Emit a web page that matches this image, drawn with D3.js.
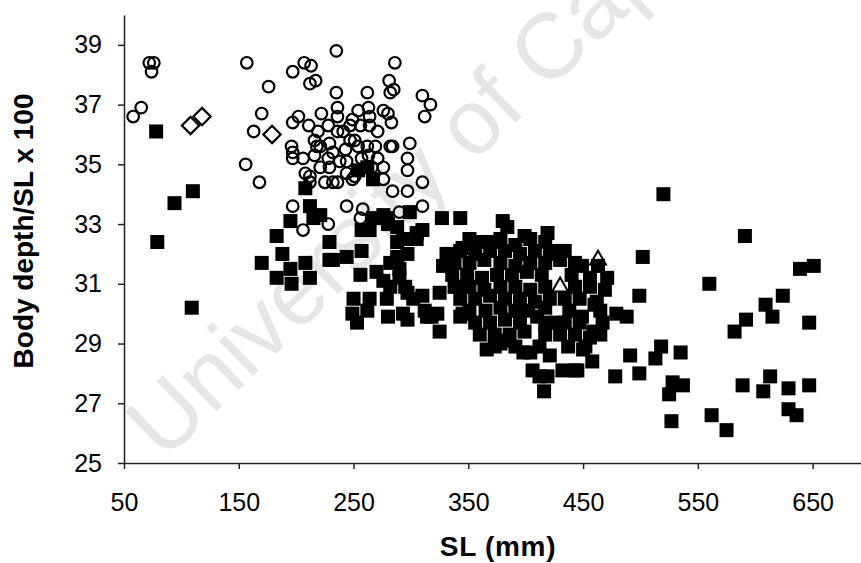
<!DOCTYPE html>
<html>
<head>
<meta charset="utf-8">
<script src="https://cdn.jsdelivr.net/npm/d3@7/dist/d3.min.js"></script>
<style>
body { margin: 0; background: #fff; }
svg { display: block; font-family: "Liberation Sans", Arial, sans-serif; }
</style>
</head>
<body>
<svg width="861" height="563"></svg>
<script>
// values: [SL (mm), body depth/SL x 100]
var squares = [
  [78,36.1],[79,32.4],[94,33.7],[110,34.1],[109,30.2],
  [170,31.7],[183,32.6],[188,32.0],[183,31.2],[196,31.0],[208,31.7],[212,31.2],[208,34.2],[195,33.1],[215,33.2],[212,33.6],[221,33.3],[195,31.5],
  [229,32.4],[244,31.9],[232,31.8],[257,32.1],[257,32.8],[264,32.8],[279,33.2],[288,32.9],[293,32.5],[305,32.7],[299,33.4],[254,34.8],[262,34.9],[267,34.5],[276,33.3],[280,33.0],[327,33.2],[343,33.2],[229,31.8],[256,31.3],[288,32.4],[288,31.9],[276,31.1],[290,31.2],[297,32.0],[331,32.0],[328,31.6],[345,32.2],
  [250,30.5],[249,30.0],[262,30.1],[264,30.5],[279,30.5],[280,29.9],[293,30.0],[297,30.7],[302,30.5],[310,30.6],[312,30.1],[318,29.9],[325,29.4],[325,30.7],[341,30.9],[345,30.0],[270,31.4],[282,30.9],[282,31.7],[290,31.5],[253,29.7],[297,29.8],[314,29.9],[295,30.9],[310,32.8],[305,32.5],[267,33.2],
  [380,33.1],[384,32.9],[399,32.6],[419,32.7],[357,32.4],[370,32.4],[334,32.0],[428,32.1],[449,31.6],[463,31.6],[471,31.2],[502,31.9],[499,30.6],[479,30.0],[488,29.9],[343,29.9],[491,28.6],[499,28.0],[478,27.9],[456,29.2],[458,28.4],[450,28.8],[412,27.9],[406,28.1],[366,28.8],[384,29.1],[398,28.7],[421,28.6],[432,28.1],[443,28.1],[460,30.3],[449,29.9],[410,29.9],[427,29.7],[323,30.0],[404,28.7],[416,27.4],[419,27.9],[378,29.0],[462,30.4],[459,29.4],[445,28.1],
  [351,32.5],[365,32.4],[378,32.5],[391,32.3],[404,32.5],[417,32.4],
  [343,32.1],[356,32.0],[369,32.1],[382,32.1],[395,32.0],[408,32.1],[421,32.0],[434,32.1],
  [338,31.7],[351,31.7],[364,31.8],[378,31.7],[391,31.6],[404,31.7],[417,31.7],[430,31.8],[443,31.7],
  [336,31.3],[349,31.3],[362,31.2],[375,31.3],[388,31.3],[401,31.4],[414,31.3],[440,31.3],[456,31.2],
  [338,30.9],[351,30.9],[364,30.8],[378,30.9],[391,30.9],[404,30.8],[417,30.9],[443,30.9],[456,30.9],[469,30.8],
  [343,30.5],[356,30.5],[369,30.6],[382,30.5],[395,30.5],[408,30.4],[421,30.5],[434,30.5],[447,30.5],
  [351,30.1],[365,30.1],[378,30.2],[391,30.1],[402,30.1],[417,30.2],[438,30.1],[465,30.1],
  [356,29.7],[369,29.7],[382,29.8],[395,29.7],[417,29.7],[434,29.7],[447,29.7],[467,29.7],
  [360,29.3],[373,29.3],[386,29.3],[399,29.4],[417,29.3],[430,29.3],[443,29.3],[465,29.3],
  [373,28.9],[391,28.9],[412,28.9],[437,28.9],[452,28.9],
  [520,34.0],[591,32.6],[560,31.0],[639,31.5],[651,31.6],[624,30.6],[609,30.3],[615,29.9],[647,29.7],[592,29.8],[582,29.4],[518,28.9],[513,28.5],[535,28.7],[528,27.7],[537,27.6],[525,27.3],[589,27.6],[613,27.9],[607,27.4],[629,27.5],[647,27.6],[629,26.8],[636,26.6],[527,26.4],[562,26.6],[575,26.1]
];

var circles = [
  [58,36.6],[65,36.9],[72,38.4],[76,38.4],[74,38.1],[157,38.4],[176,37.6],[170,36.7],[163,36.1],[156,35.0],[168,34.4],
  [197,38.1],[207,38.4],[213,38.3],[212,37.7],[217,37.8],[235,38.8],[286,38.4],[281,37.8],[285,37.5],[282,37.4],[262,37.4],[235,37.4],[310,37.3],[317,37.0],[312,36.6],
  [202,36.6],[197,36.4],[211,36.3],[222,36.7],[228,36.3],[236,36.9],[236,36.6],[247,36.3],[254,36.8],[263,36.9],[264,36.6],[276,36.8],[280,36.7],[283,36.4],
  [197,35.4],[197,35.2],[206,35.2],[208,34.7],[212,34.6],[216,35.8],[221,35.6],[216,35.3],[229,35.7],[232,35.4],[241,36.1],[247,35.8],[256,36.3],[264,36.3],
  [254,35.6],[262,35.6],[269,35.6],[284,35.6],[299,35.7],[297,35.2],[297,34.8],[297,34.1],[310,34.4],[310,33.6],[284,34.1],[276,34.5],[276,34.9],
  [244,35.1],[244,34.7],[251,34.6],[232,34.4],[225,34.4],[221,34.9],[229,34.9],[197,33.6],[206,32.8],[228,33.0],[244,33.6],[256,33.2],[258,33.5],[290,33.4],
  [219,36.1],[236,36.1],[271,35.2],[263,35.3],[282,35.6],[236,34.4],[249,34.5],[212,34.4],[196,35.6],[249,36.5],[218,35.6],[243,35.5],[251,35.8],[257,35.2],[266,34.9],[238,35.1],[271,36.1],[228,35.2]
];

var diamonds = [[108,36.3],[118,36.6],[179,36.0]];

var triangles = [[430,30.9],[463,31.8]];

var xTicks = [50, 150, 250, 350, 450, 550, 650];
var yTicks = [25, 27, 29, 31, 33, 35, 37, 39];

var svg = d3.select("svg");

var x = d3.scaleLinear().domain([50, 700]).range([124, 870]);
var y = d3.scaleLinear().domain([25, 40]).range([463, 15]);

// watermark of the scanned page
svg.append("text")
    .attr("transform", "translate(164,462) rotate(-44)")
    .attr("font-size", 92)
    .attr("fill", "#e6e6e6")
    .text("University of Cape Town");

// filled squares
svg.append("g")
  .selectAll("rect")
  .data(squares)
  .enter().append("rect")
    .attr("x", function(d) { return x(d[0]) - 7; })
    .attr("y", function(d) { return y(d[1]) - 7; })
    .attr("width", 14)
    .attr("height", 14)
    .attr("fill", "#000");

// open circles
svg.append("g")
  .selectAll("circle")
  .data(circles)
  .enter().append("circle")
    .attr("cx", function(d) { return x(d[0]); })
    .attr("cy", function(d) { return y(d[1]); })
    .attr("r", 5.8)
    .attr("fill", "none")
    .attr("stroke", "#000")
    .attr("stroke-width", 2.2);

// open diamonds
svg.append("g")
  .selectAll("path")
  .data(diamonds)
  .enter().append("path")
    .attr("transform", function(d) { return "translate(" + x(d[0]) + "," + y(d[1]) + ") rotate(45)"; })
    .attr("d", d3.symbol().type(d3.symbolSquare).size(150))
    .attr("fill", "none")
    .attr("stroke", "#000")
    .attr("stroke-width", 2.2);

// open triangles
svg.append("g")
  .selectAll("path")
  .data(triangles)
  .enter().append("path")
    .attr("transform", function(d) { return "translate(" + x(d[0]) + "," + y(d[1]) + ")"; })
    .attr("d", d3.symbol().type(d3.symbolTriangle).size(110))
    .attr("fill", "none")
    .attr("stroke", "#000")
    .attr("stroke-width", 2);

// axes
var xAxis = svg.append("g")
    .attr("transform", "translate(0,463)")
    .call(d3.axisBottom(x).tickValues(xTicks).tickSize(6).tickSizeOuter(0).tickPadding(24));

var yAxis = svg.append("g")
    .attr("transform", "translate(124,0)")
    .call(d3.axisLeft(y).tickValues(yTicks).tickSize(6).tickSizeOuter(0).tickPadding(16));

svg.selectAll(".domain, .tick line")
    .attr("stroke", "#222")
    .attr("stroke-width", 1.5);
svg.selectAll(".tick text")
    .attr("font-family", "Liberation Sans, Arial, sans-serif")
    .attr("font-size", 25)
    .attr("fill", "#000");

// axis titles
svg.append("text")
    .attr("x", 498)
    .attr("y", 556)
    .attr("text-anchor", "middle")
    .attr("font-size", 28)
    .attr("font-weight", "bold")
    .attr("letter-spacing", 0.7)
    .text("SL (mm)");

svg.append("text")
    .attr("transform", "translate(33,231) rotate(-90)")
    .attr("text-anchor", "middle")
    .attr("font-size", 28)
    .attr("font-weight", "bold")
    .text("Body depth/SL x 100");
</script>
</body>
</html>
